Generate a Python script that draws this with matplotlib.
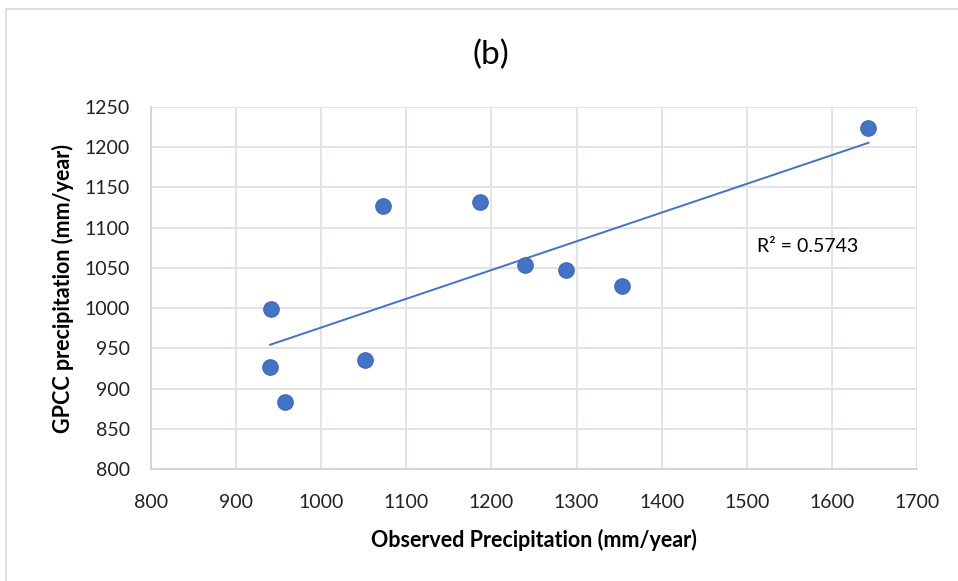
import numpy as np
import matplotlib.pyplot as plt
from matplotlib.patches import Rectangle

# observed vs GPCC annual precipitation (mm/year)
observed = [940, 941, 957, 1051, 1073, 1186, 1240, 1288, 1353, 1643]
gpcc = [927, 999, 883, 935, 1127, 1132, 1053, 1048, 1028, 1224]
x_ticks = [800, 900, 1000, 1100, 1200, 1300, 1400, 1500, 1600, 1700]
y_ticks = [800, 850, 900, 950, 1000, 1050, 1100, 1150, 1200, 1250]
r2_label = "R² = 0.5743"

plt.rcParams['font.family'] = ['Lato', 'DejaVu Sans']

fig = plt.figure(figsize=(9.58, 5.81), dpi=100)
fig.patches.append(Rectangle((0.006, -0.01), 1.1, 0.995, transform=fig.transFigure,
                             facecolor='white', edgecolor='#D9D9D9', lw=1.2, zorder=-10))
ax = fig.add_axes([0.1576, 0.1928, 0.7996, 0.623])
ax.patch.set_alpha(0)

ax.grid(True, color='#DDE1E8', lw=1.3)
ax.set_axisbelow(True)
for s in ['top', 'right']:
    ax.spines[s].set_visible(False)
for s in ['left', 'bottom']:
    ax.spines[s].set_color('#D0D4DA')
    ax.spines[s].set_linewidth(1.3)

# linear trendline
k, b = np.polyfit(observed, gpcc, 1)
xs = np.array([min(observed), max(observed)])
ax.plot(xs, k * xs + b, color='#4472C4', lw=1.4, zorder=2)
ax.scatter(observed, gpcc, s=125, color='#4472C4', edgecolor='#3F69B5', lw=0.8, zorder=3)

ax.text(1512, 1076, r2_label, fontsize=14, va='center', ha='left')

ax.set_xlim(800, 1700)
ax.set_ylim(800, 1250)
ax.set_xticks(x_ticks)
ax.set_yticks(y_ticks)
ax.tick_params(length=0, labelsize=14, colors='#222222')
ax.tick_params(axis='y', pad=15)
ax.tick_params(axis='x', pad=18)

ax.set_xlabel('Observed Precipitation (mm/year)', fontsize=15.5, fontweight='bold')
ax.set_ylabel('GPCC precipitation (mm/year)', fontsize=15.5, fontweight='bold')
ax.xaxis.label.set_va('center')
ax.yaxis.label.set_va('center')
ax.xaxis.set_label_coords(0.5 + (534 - 534) / 766, -0.196)
ax.yaxis.set_label_coords(-0.115, 0.5)
fig.text(0.512, 0.905, '(b)', fontsize=24, ha='center', va='center')

fig.savefig('out.png', dpi=100)
